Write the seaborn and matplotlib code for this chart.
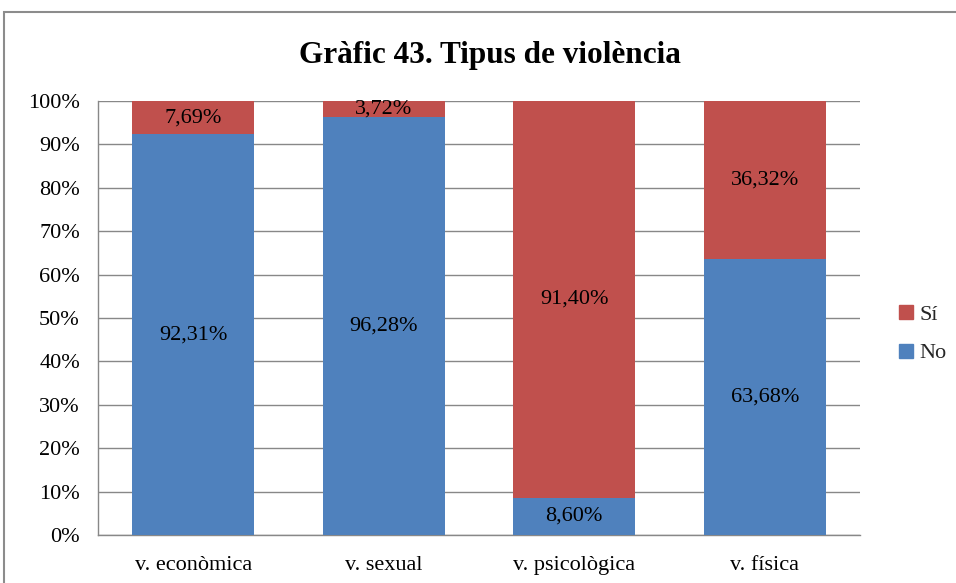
import matplotlib
matplotlib.use("Agg")
import matplotlib.pyplot as plt
from matplotlib.patches import Rectangle
import seaborn as sns
import pandas as pd

categories = ["v. econòmica", "v. sexual", "v. psicològica", "v. física"]
no_vals = [92.31, 96.28, 8.60, 63.68]
si_vals = [7.69, 3.72, 91.40, 36.32]
series_names = ["Sí", "No"]
title = "Gràfic 43. Tipus de violència"

RED = "#C0504D"
BLUE = "#4F81BD"
GRID = "#888888"

sns.set_theme(style="white")
plt.rcParams["font.family"] = ["Liberation Serif", "DejaVu Serif"]

df = pd.DataFrame({"cat": categories, "no": no_vals, "si": si_vals})
df["total"] = df["no"] + df["si"]

fig = plt.figure(figsize=(9.56, 5.83), dpi=100)
ax = fig.add_axes([0.1025, 0.0823, 0.7971, 0.7445])

# stacked: full-height red bars, blue bars drawn over the lower part
sns.barplot(data=df, x="cat", y="total", color=RED, width=0.64,
            saturation=1, linewidth=0, ax=ax, zorder=2)
sns.barplot(data=df, x="cat", y="no", color=BLUE, width=0.64,
            saturation=1, linewidth=0, ax=ax, zorder=3)

def fmt(v):
    return f"{v:.2f}".replace(".", ",") + "%"

for i, (n, s) in enumerate(zip(no_vals, si_vals)):
    ax.text(i, n / 2, fmt(n), ha="center", va="center", fontsize=16,
            color="black", zorder=5)
    ax.text(i, n + s / 2, fmt(s), ha="center", va="center", fontsize=16,
            color="black", zorder=5)

ax.set_ylim(0, 100)
ax.set_xlim(-0.5, 3.5)
ax.set_yticks(range(0, 101, 10))
ax.set_yticklabels([f"{v}%" for v in range(0, 101, 10)])
ax.set_xlabel("")
ax.set_ylabel("")
ax.tick_params(axis="both", length=0, labelsize=16, colors="black")
ax.tick_params(axis="y", pad=13)
ax.tick_params(axis="x", pad=15)

ax.yaxis.grid(True, color=GRID, linewidth=1.0, zorder=0)
ax.set_axisbelow(True)
for side in ["top", "right"]:
    ax.spines[side].set_visible(False)
for side in ["left", "bottom"]:
    ax.spines[side].set_color(GRID)
    ax.spines[side].set_linewidth(1.0)

handles = [Rectangle((0, 0), 1, 1, color=RED), Rectangle((0, 0), 1, 1, color=BLUE)]
fig.legend(handles, series_names, loc="center left",
           bbox_to_anchor=(0.929, 0.427), frameon=False, fontsize=16,
           handlelength=0.6, handleheight=0.6, handletextpad=0.3,
           labelspacing=0.85, borderpad=0)

fig.text(0.512, 0.904, title, ha="center", va="center", fontsize=22.5,
         fontweight="bold", color="black")

# chart frame
fig.add_artist(Rectangle((4 / 956, -0.1), 1.2, 1.1 - 13 / 583 + 0.001,
                         transform=fig.transFigure, fill=False,
                         edgecolor="#8C8C8C", linewidth=1.5))

fig.savefig("out.png", dpi=100)
